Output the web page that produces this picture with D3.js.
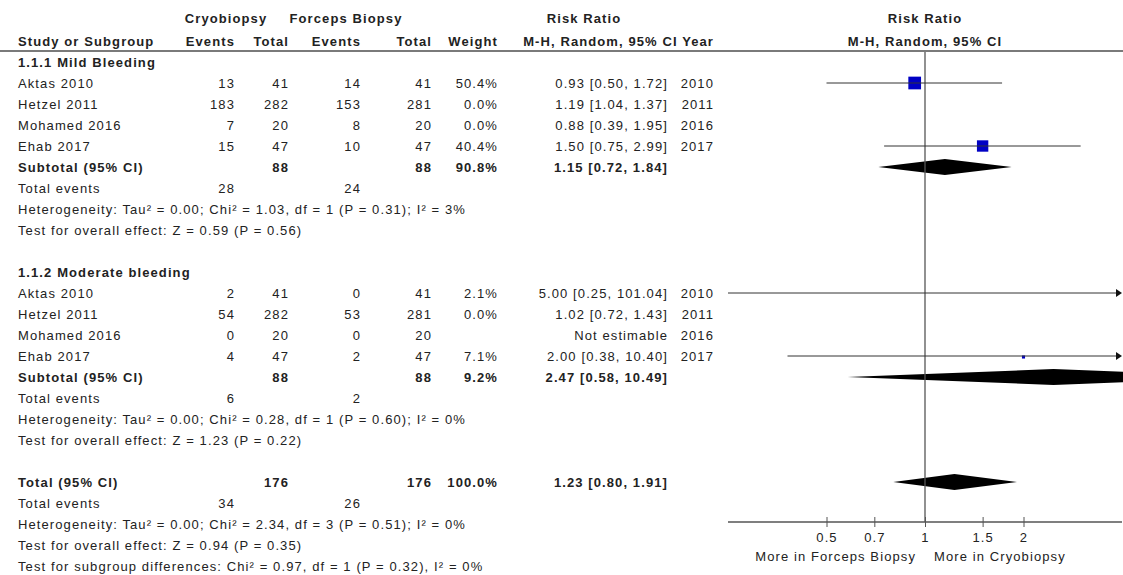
<!DOCTYPE html>
<html>
<head>
<meta charset="utf-8">
<script src="https://cdn.jsdelivr.net/npm/d3@7"></script>
<style>
  body { margin: 0; background: #fff; }
  svg text { font-family: "Liberation Sans", Arial, sans-serif; font-size: 13px; fill: #222; letter-spacing: 1.1px; }
  svg text.b { font-weight: bold; }
</style>
</head>
<body>
<svg id="chart" width="1123" height="575"></svg>
<script>
// ---- Study data ----------------------------------------------------------
const studies = ["Aktas 2010", "Hetzel 2011", "Mohamed 2016", "Ehab 2017"];
const years = [2010, 2011, 2016, 2017];

// 1.1.1 Mild Bleeding
const mildCryoEvents = [13, 183, 7, 15];
const mildCryoTotal = [41, 282, 20, 47];
const mildForcEvents = [14, 153, 8, 10];
const mildForcTotal = [41, 281, 20, 47];
const mildWeight = [50.4, 0.0, 0.0, 40.4];
const mildRR = [0.93, 1.19, 0.88, 1.50];
const mildLo = [0.50, 1.04, 0.39, 0.75];
const mildHi = [1.72, 1.37, 1.95, 2.99];

// 1.1.2 Moderate bleeding
const modCryoEvents = [2, 54, 0, 4];
const modCryoTotal = [41, 282, 20, 47];
const modForcEvents = [0, 53, 0, 2];
const modForcTotal = [41, 281, 20, 47];
const modWeight = [2.1, 0.0, null, 7.1];
const modRR = [5.00, 1.02, null, 2.00];
const modLo = [0.25, 0.72, null, 0.38];
const modHi = [101.04, 1.43, null, 10.40];

// Pooled estimates: [RR, lower, upper]
const mildPooled = [1.15, 0.72, 1.84];
const modPooled = [2.47, 0.58, 10.49];
const overallPooled = [1.23, 0.80, 1.91];
const mildSub = { cryoTotal: 88, forcTotal: 88, weight: 90.8, cryoEvents: 28, forcEvents: 24 };
const modSub = { cryoTotal: 88, forcTotal: 88, weight: 9.2, cryoEvents: 6, forcEvents: 2 };
const overallSub = { cryoTotal: 176, forcTotal: 176, weight: 100.0, cryoEvents: 34, forcEvents: 26 };

const mildStats = [
  "Heterogeneity: Tau\u00b2 = 0.00; Chi\u00b2 = 1.03, df = 1 (P = 0.31); I\u00b2 = 3%",
  "Test for overall effect: Z = 0.59 (P = 0.56)"
];
const modStats = [
  "Heterogeneity: Tau\u00b2 = 0.00; Chi\u00b2 = 0.28, df = 1 (P = 0.60); I\u00b2 = 0%",
  "Test for overall effect: Z = 1.23 (P = 0.22)"
];
const overallStats = [
  "Heterogeneity: Tau\u00b2 = 0.00; Chi\u00b2 = 2.34, df = 3 (P = 0.51); I\u00b2 = 0%",
  "Test for overall effect: Z = 0.94 (P = 0.35)",
  "Test for subgroup differences: Chi\u00b2 = 0.97, df = 1 (P = 0.32), I\u00b2 = 0%"
];

const tickValues = [0.5, 0.7, 1, 1.5, 2];
const axisDomain = [0.25, 4];
const favoursLeft = "More in Forceps Biopsy";
const favoursRight = "More in Cryobiopsy";

// ---- Layout --------------------------------------------------------------
const svg = d3.select("#chart");
const col = { study: 18, cE: 235, cT: 289, fE: 361, fT: 432, w: 498, rr: 668, yr: 714 };
const rowY = d3.scaleLinear().domain([0, 1]).range([62, 83]);   // 21px per row
const base = 5;                                                 // text baseline offset
const x = d3.scaleLog().domain(axisDomain).range([728, 1122]);
const axisY = 522;
const fmt2 = d3.format(".2f");
const fmtW = w => d3.format(".1f")(w) + "%";
const ciText = (r, l, h) => `${fmt2(r)} [${fmt2(l)}, ${fmt2(h)}]`;

function txt(xp, yp, s, anchor, bold) {
  svg.append("text")
    .attr("x", xp).attr("y", yp)
    .attr("text-anchor", anchor || "start")
    .attr("class", bold ? "b" : null)
    .text(s);
}

// ---- Column headers -------------------------------------------------------
txt(226, 23, "Cryobiopsy", "middle", true);
txt(346, 23, "Forceps Biopsy", "middle", true);
txt(584, 23, "Risk Ratio", "middle", true);
txt(925, 23, "Risk Ratio", "middle", true);
txt(col.study, 46, "Study or Subgroup", "start", true);
txt(col.cE, 46, "Events", "end", true);
txt(col.cT, 46, "Total", "end", true);
txt(col.fE, 46, "Events", "end", true);
txt(col.fT, 46, "Total", "end", true);
txt(col.w, 46, "Weight", "end", true);
txt(col.yr, 46, "M-H, Random, 95% CI Year", "end", true);
txt(925, 46, "M-H, Random, 95% CI", "middle", true);

svg.append("line")
  .attr("x1", 0).attr("x2", 1123).attr("y1", 51).attr("y2", 51)
  .attr("stroke", "#7a7a7a").attr("stroke-width", 2);

// ---- Plot area -------------------------------------------------------------
svg.append("defs").append("clipPath").attr("id", "plotClip")
  .append("rect").attr("x", x.range()[0]).attr("y", 52)
  .attr("width", x.range()[1] - x.range()[0] + 1).attr("height", axisY - 52);

const plot = svg.append("g");
const clipped = plot.append("g").attr("clip-path", "url(#plotClip)");

// line of no effect
plot.append("line")
  .attr("x1", x(1)).attr("x2", x(1)).attr("y1", 52).attr("y2", axisY)
  .attr("stroke", "#555").attr("stroke-width", 1.3);

function studyMark(row, rr, lo, hi, weight) {
  if (rr == null || !weight) return;
  const yc = rowY(row);
  const [dmin, dmax] = axisDomain;
  const xl = x(Math.max(lo, dmin));
  const arrowR = hi > dmax;
  const xr = arrowR ? x(dmax) - 6 : x(hi);
  plot.append("line")
    .attr("x1", xl).attr("x2", xr).attr("y1", yc).attr("y2", yc)
    .attr("stroke", "#333").attr("stroke-width", 1);
  if (arrowR) {
    const xe = x(dmax);
    plot.append("path")
      .attr("d", `M${xe - 6},${yc - 4}L${xe},${yc}L${xe - 6},${yc + 4}Z`)
      .attr("fill", "#111");
  }
  if (rr >= dmin && rr <= dmax) {
    const s = 1.79 * Math.sqrt(weight) * (weight < 10 ? 0.65 : 1);
    clipped.append("rect")
      .attr("x", x(rr) - s / 2).attr("y", yc - s / 2 + (weight < 10 ? 1 : 0))
      .attr("width", s).attr("height", s)
      .attr("fill", "#0000c4");
  }
}

function diamond(row, p) {
  const yc = rowY(row), h = 8;
  const [r, l, u] = p;
  clipped.append("path")
    .attr("d", `M${x(l)},${yc}L${x(r)},${yc - h}L${x(u)},${yc}L${x(r)},${yc + h}Z`)
    .attr("fill", "#000");
}

// ---- Table rows -------------------------------------------------------------
function subgroup(startRow, title, cE, cT, fE, fT, w, rr, lo, hi, pooled, sub, stats) {
  let r = startRow;
  txt(col.study, rowY(r) + base, title, "start", true);
  r++;
  studies.forEach((name, i) => {
    const yb = rowY(r) + base;
    txt(col.study, yb, name);
    txt(col.cE, yb, cE[i], "end");
    txt(col.cT, yb, cT[i], "end");
    txt(col.fE, yb, fE[i], "end");
    txt(col.fT, yb, fT[i], "end");
    if (w[i] != null) txt(col.w, yb, fmtW(w[i]), "end");
    txt(col.rr, yb, rr[i] == null ? "Not estimable" : ciText(rr[i], lo[i], hi[i]), "end");
    txt(col.yr, yb, years[i], "end");
    studyMark(r, rr[i], lo[i], hi[i], w[i]);
    r++;
  });
  const ys = rowY(r) + base;
  txt(col.study, ys, "Subtotal (95% CI)", "start", true);
  txt(col.cT, ys, sub.cryoTotal, "end", true);
  txt(col.fT, ys, sub.forcTotal, "end", true);
  txt(col.w, ys, fmtW(sub.weight), "end", true);
  txt(col.rr, ys, ciText(...pooled), "end", true);
  diamond(r, pooled);
  r++;
  const ye = rowY(r) + base;
  txt(col.study, ye, "Total events");
  txt(col.cE, ye, sub.cryoEvents, "end");
  txt(col.fE, ye, sub.forcEvents, "end");
  r++;
  stats.forEach(s => { txt(col.study, rowY(r) + base, s); r++; });
  return r + 1;
}

let next = subgroup(0, "1.1.1 Mild Bleeding", mildCryoEvents, mildCryoTotal, mildForcEvents,
  mildForcTotal, mildWeight, mildRR, mildLo, mildHi, mildPooled, mildSub, mildStats);
next = subgroup(next, "1.1.2 Moderate bleeding", modCryoEvents, modCryoTotal, modForcEvents,
  modForcTotal, modWeight, modRR, modLo, modHi, modPooled, modSub, modStats);

// overall
const yt = rowY(next) + base;
txt(col.study, yt, "Total (95% CI)", "start", true);
txt(col.cT, yt, overallSub.cryoTotal, "end", true);
txt(col.fT, yt, overallSub.forcTotal, "end", true);
txt(col.w, yt, fmtW(overallSub.weight), "end", true);
txt(col.rr, yt, ciText(...overallPooled), "end", true);
diamond(next, overallPooled);
next++;
const yte = rowY(next) + base;
txt(col.study, yte, "Total events");
txt(col.cE, yte, overallSub.cryoEvents, "end");
txt(col.fE, yte, overallSub.forcEvents, "end");
next++;
overallStats.forEach(s => { txt(col.study, rowY(next) + base, s); next++; });

// ---- Axis -------------------------------------------------------------------
const axis = d3.axisBottom(x).tickValues(tickValues).tickFormat(d3.format("")).tickSizeOuter(0);
const ag = svg.append("g").attr("transform", `translate(0,${axisY})`).call(axis);
ag.select(".domain").attr("stroke", "#555").attr("stroke-width", 1.3);
ag.selectAll(".tick line").attr("y1", -5).attr("y2", 5).attr("stroke", "#555");
ag.selectAll(".tick text")
  .attr("y", 20).attr("dy", null)
  .style("font-family", '"Liberation Sans", Arial, sans-serif')
  .style("font-size", "13px").attr("fill", "#222");
ag.select(".domain").attr("d", `M${x.range()[0]},0H${x.range()[1]}`);

txt(x(1) - 9, 561, favoursLeft, "end");
txt(x(1) + 9, 561, favoursRight, "start");
</script>
</body>
</html>
